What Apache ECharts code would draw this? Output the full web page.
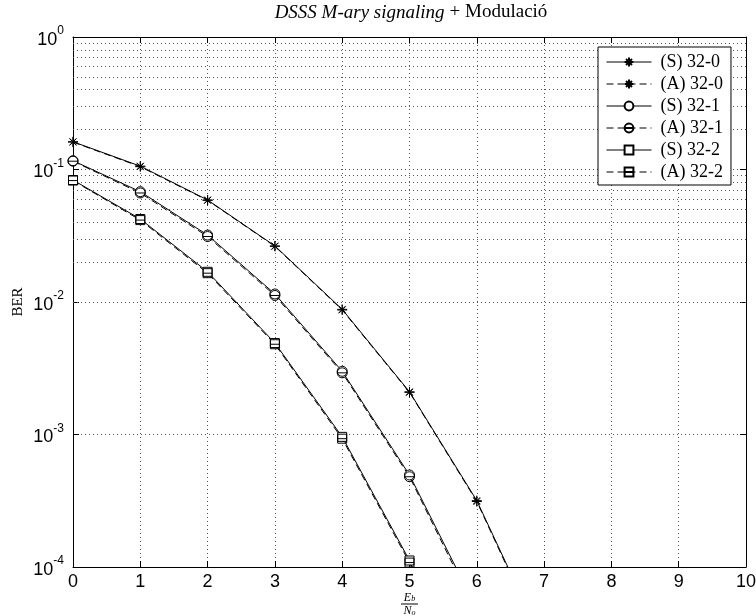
<!DOCTYPE html>
<html>
<head>
<meta charset="utf-8">
<script src="https://cdn.jsdelivr.net/npm/echarts@6/dist/echarts.min.js"></script>
<style>
  html, body { margin: 0; padding: 0; background: #fff; }
  #chart { width: 756px; height: 616px; }
</style>
</head>
<body>
<div id="chart"></div>
<script>
// Eb/No in dB
const ebno = [0, 1, 2, 3, 4, 5, 6, 7];

// Bit error rate for each configuration (S = simulated, A = analytic)
const ber_S_32_0 = [0.162, 0.106, 0.0589, 0.0265, 0.0088, 0.0021, 3.17e-4, 2.6e-5];
const ber_A_32_0 = [0.161, 0.105, 0.0585, 0.0263, 0.0087, 0.00208, 3.12e-4, 2.5e-5];
const ber_S_32_1 = [0.1165, 0.068, 0.032, 0.0115, 0.0030, 4.95e-4, 4.8e-5];
const ber_A_32_1 = [0.1155, 0.0665, 0.0312, 0.0112, 0.00292, 4.8e-4, 4.5e-5];
const ber_S_32_2 = [0.0833, 0.0423, 0.0169, 0.0049, 9.6e-4, 1.12e-4, 8e-6];
const ber_A_32_2 = [0.0825, 0.0415, 0.0165, 0.0048, 9.3e-4, 1.08e-4, 7.5e-6];

const seriesNames = ['(S) 32-0', '(A) 32-0', '(S) 32-1', '(A) 32-1', '(S) 32-2', '(A) 32-2'];

// x-axis ticks and log-axis decades
const xTicks = [0, 1, 2, 3, 4, 5, 6, 7, 8, 9, 10];
const decades = [-4, -3, -2, -1];
const minorMultipliers = [2, 3, 4, 5, 6, 7, 8, 9];

// Marker shapes
const STAR = 'path://M5,0L5,10M0,5L10,5M1.6,1.6L8.4,8.4M8.4,1.6L1.6,8.4';
const CIRCLE = 'path://M0,5A5,5,0,1,1,10,5A5,5,0,1,1,0,5Z';
const CIRCLE_BAR = 'path://M0,5A5,5,0,1,1,10,5A5,5,0,1,1,0,5ZM0,5L10,5';
const SQUARE = 'path://M0,0L10,0L10,10L0,10Z';
const SQUARE_BAR = 'path://M0,0L10,0L10,10L0,10ZM0,5L10,5';

const pairs = (ys) => ys.map((y, i) => [ebno[i], y]);

// Dotted minor grid lines of the logarithmic axis (2..9 x 10^d)
const minorLines = [];
decades.forEach(d => minorMultipliers.forEach(m => minorLines.push({ yAxis: m * Math.pow(10, d) })));

const dotted = { color: '#555', width: 1, type: [1, 3] };

function makeSeries(name, data, symbol, size, dashed, fill) {
  return {
    name: name,
    type: 'line',
    data: pairs(data),
    symbol: symbol,
    symbolSize: size,
    showSymbol: true,
    clip: true,
    animation: false,
    lineStyle: { color: '#000', width: 1, type: dashed ? [7, 4] : 'solid' },
    itemStyle: { color: fill, borderColor: '#000', borderWidth: 1 },
    emphasis: { disabled: true },
    z: 3
  };
}

const series = [
  makeSeries(seriesNames[0], ber_S_32_0, STAR, 10, false, 'rgba(0,0,0,0)'),
  makeSeries(seriesNames[1], ber_A_32_0, STAR, 10, true, 'rgba(0,0,0,0)'),
  makeSeries(seriesNames[2], ber_S_32_1, CIRCLE, 10, false, '#fff'),
  makeSeries(seriesNames[3], ber_A_32_1, CIRCLE_BAR, 10, true, 'rgba(0,0,0,0)'),
  makeSeries(seriesNames[4], ber_S_32_2, SQUARE, 9, false, '#fff'),
  makeSeries(seriesNames[5], ber_A_32_2, SQUARE_BAR, 9, true, 'rgba(0,0,0,0)')
];

series[0].markLine = {
  silent: true,
  symbol: 'none',
  animation: false,
  label: { show: false },
  lineStyle: dotted,
  emphasis: { disabled: true },
  data: minorLines,
  z: 1
};

const chart = echarts.init(document.getElementById('chart'), null, { renderer: 'canvas' });

const tickFont = 'Liberation Sans, Arial, Helvetica, sans-serif';
const serif = 'Liberation Serif, Times New Roman, serif';

chart.setOption({
  backgroundColor: '#fff',
  animation: false,
  title: {
    text: '{i|DSSS M-ary signaling} {r|+ Modulació}',
    left: 406,
    top: -2,
    textAlign: 'center',
    textStyle: {
      fontWeight: 'normal',
      rich: {
        i: { fontFamily: serif, fontStyle: 'italic', fontWeight: 'normal', fontSize: 19, color: '#000' },
        r: { fontFamily: serif, fontWeight: 'normal', fontSize: 19, color: '#000' }
      }
    }
  },
  // Vertical axis title
  graphic: [{
    type: 'text',
    x: 18,
    y: 302,
    rotation: Math.PI / 2,
    silent: true,
    style: {
      text: 'BER',
      font: '15px Liberation Serif, Times New Roman, serif',
      fill: '#000',
      align: 'center',
      verticalAlign: 'middle'
    }
  }],
  grid: { left: 73, right: 10, top: 37, bottom: 49, containLabel: false, outerBoundsMode: 'none', show: false },
  legend: {
    left: 598,
    top: 47,
    orient: 'vertical',
    data: seriesNames,
    backgroundColor: '#fff',
    borderColor: '#000',
    borderWidth: 1,
    padding: [6, 8, 4, 8],
    itemWidth: 45,
    itemHeight: 11,
    itemGap: 4,
    lineStyle: { width: 1 },
    textStyle: { fontFamily: serif, fontSize: 18, color: '#000', padding: [0, 0, 0, 4] },
    selectedMode: false
  },
  xAxis: [{
    type: 'value',
    min: xTicks[0],
    max: xTicks[xTicks.length - 1],
    interval: 1,
    name: '{n|E}{ns|b}\n{bar| }\n{d|N}{ds|o}',
    nameLocation: 'middle',
    nameGap: 25,
    nameMoveOverlap: false,
    nameTextStyle: {
      align: 'center',
      verticalAlign: 'top',
      rich: {
        n: { fontFamily: serif, fontStyle: 'italic', fontSize: 12, color: '#000', lineHeight: 11 },
        ns: { fontFamily: serif, fontStyle: 'italic', fontSize: 8, color: '#000', lineHeight: 11, verticalAlign: 'bottom', padding: [4, 0, 0, 0] },
        bar: { width: 17, height: 1, lineHeight: 2, fontSize: 1, backgroundColor: '#000' },
        d: { fontFamily: serif, fontStyle: 'italic', fontSize: 12, color: '#000', lineHeight: 12 },
        ds: { fontFamily: serif, fontStyle: 'italic', fontSize: 8, color: '#000', lineHeight: 12, padding: [4, 0, 0, 0] }
      }
    },
    axisLine: { show: true, onZero: false, lineStyle: { color: '#000', width: 1 } },
    axisTick: { show: true, inside: true, length: 6, lineStyle: { color: '#000' } },
    axisLabel: { show: true, fontFamily: tickFont, fontSize: 18, color: '#000', margin: 6 },
    splitLine: { show: true, lineStyle: dotted }
  }, {
    type: 'value',
    position: 'top',
    min: xTicks[0],
    max: xTicks[xTicks.length - 1],
    interval: 1,
    axisLine: { show: true, onZero: false, lineStyle: { color: '#000', width: 1 } },
    axisTick: { show: true, inside: true, length: 6, lineStyle: { color: '#000' } },
    axisLabel: { show: false },
    splitLine: { show: false }
  }],
  yAxis: [{
    type: 'log',
    logBase: 10,
    min: 1e-4,
    max: 1,
    axisLine: { show: true, onZero: false, lineStyle: { color: '#000', width: 1 } },
    axisTick: { show: true, inside: true, length: 6, lineStyle: { color: '#000' } },
    axisLabel: {
      show: true,
      margin: 9,
      formatter: (v) => '{b|10}{s|' + Math.round(Math.log10(v)) + '}',
      rich: {
        b: { fontFamily: tickFont, fontSize: 18, color: '#000', lineHeight: 24, verticalAlign: 'bottom', padding: [8, 0, 0, 0] },
        s: { fontFamily: tickFont, fontSize: 12, color: '#000', lineHeight: 12, verticalAlign: 'top' }
      }
    },
    splitLine: { show: true, lineStyle: dotted }
  }, {
    type: 'log',
    logBase: 10,
    min: 1e-4,
    max: 1,
    position: 'right',
    axisLine: { show: true, onZero: false, lineStyle: { color: '#000', width: 1 } },
    axisTick: { show: true, inside: true, length: 6, lineStyle: { color: '#000' } },
    axisLabel: { show: false },
    splitLine: { show: false }
  }],
  series: series
});
</script>
</body>
</html>
